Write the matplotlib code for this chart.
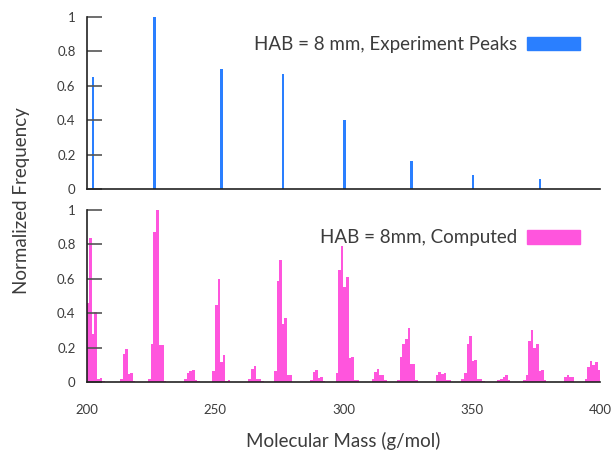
import matplotlib.pyplot as plt
from matplotlib.patches import Patch
from matplotlib.ticker import FixedLocator, FuncFormatter

plt.rcParams['font.family'] = ['Lato', 'DejaVu Sans']

# experiment peaks (top panel)
exp_mass = [202, 226, 252, 276, 300, 326, 350, 376]
exp_freq = [0.65, 1.0, 0.70, 0.67, 0.40, 0.16, 0.083, 0.06]

# computed distribution (bottom panel), 1 amu bins
comp_mass = [200, 201, 202, 203, 204, 205, 206,
             213, 214, 215, 216, 217, 218,
             224, 225, 226, 227, 228, 229, 230,
             238, 239, 240, 241, 242, 243,
             249, 250, 251, 252, 253, 254, 255,
             263, 264, 265, 266, 267, 268,
             273, 274, 275, 276, 277, 278, 279,
             287, 288, 289, 290, 291, 292,
             297, 298, 299, 300, 301, 302, 303, 304, 305,
             311, 312, 313, 314, 315, 316,
             321, 322, 323, 324, 325, 326, 327, 328,
             336, 337, 338, 339, 340, 341,
             346, 347, 348, 349, 350, 351, 352, 353, 354,
             360, 361, 362, 363, 364,
             370, 371, 372, 373, 374, 375, 376, 377, 378,
             386, 387, 388, 389,
             394, 395, 396, 397, 398, 399]
comp_freq = [0.46, 0.84, 0.28, 0.41, 0.016, 0.023, 0.005,
             0.016, 0.163, 0.19, 0.047, 0.052, 0.005,
             0.016, 0.22, 0.87, 1.0, 0.215, 0.215, 0.005,
             0.02, 0.05, 0.065, 0.07, 0.012, 0.005,
             0.062, 0.45, 0.60, 0.115, 0.155, 0.005, 0.012,
             0.016, 0.074, 0.092, 0.016, 0.02, 0.005,
             0.062, 0.59, 0.71, 0.336, 0.37, 0.04, 0.04,
             0.01, 0.06, 0.07, 0.025, 0.03, 0.005,
             0.055, 0.65, 0.79, 0.55, 0.61, 0.14, 0.145, 0.01, 0.01,
             0.015, 0.06, 0.075, 0.04, 0.04, 0.01,
             0.01, 0.143, 0.22, 0.248, 0.312, 0.103, 0.103, 0.01,
             0.04, 0.06, 0.045, 0.05, 0.01, 0.01,
             0.02, 0.05, 0.22, 0.27, 0.12, 0.13, 0.02, 0.02, 0.005,
             0.01, 0.02, 0.03, 0.04, 0.012,
             0.01, 0.04, 0.24, 0.30, 0.20, 0.22, 0.065, 0.07, 0.01,
             0.03, 0.04, 0.03, 0.03,
             0.02, 0.09, 0.12, 0.10, 0.115, 0.07]

yticks = [0, 0.2, 0.4, 0.6, 0.8, 1]
xticks = [200, 250, 300, 350, 400]

blue = '#2a7fff'
pink = '#ff55dd'
txt = '#3c3c3c'

fig = plt.figure(figsize=(6.13, 4.55), dpi=100)
ax1 = fig.add_axes([0.1414, 0.5846, 0.8376, 0.378])
ax2 = fig.add_axes([0.1414, 0.1604, 0.8376, 0.378])


def yfmt(v, pos):
    return '%g' % v


for ax in (ax1, ax2):
    ax.set_xlim(200, 400)
    ax.set_ylim(0, 1)
    for s in ('top', 'right'):
        ax.spines[s].set_visible(False)
    ax.spines['left'].set_color('#222222')
    ax.spines['bottom'].set_color('#222222')
    ax.spines['left'].set_linewidth(1.2)
    ax.spines['bottom'].set_linewidth(1.2)
    ax.yaxis.set_major_locator(FixedLocator(yticks))
    ax.yaxis.set_major_formatter(FuncFormatter(yfmt))
    ax.tick_params(axis='y', direction='in', length=11, width=1.2, color='#555555',
                   labelsize=9.5, labelcolor=txt, pad=8)
    ax.tick_params(axis='x', length=0, labelsize=9.5, labelcolor=txt, pad=16)

leg_kw = dict(loc='upper right', bbox_to_anchor=(0.986, 0.965), frameon=False,
              markerfirst=False, handlelength=2.8, handleheight=0.75,
              handletextpad=0.55, fontsize=13.5, labelcolor=txt, borderaxespad=0.3)

ax1.bar(exp_mass, exp_freq, width=1.0, align='edge', color=blue, linewidth=0)
ax1.set_xticks([])
ax1.legend(handles=[Patch(color=blue, label='HAB = 8 mm, Experiment Peaks')], **leg_kw)

ax2.bar(comp_mass, comp_freq, width=1.0, align='edge', color=pink, linewidth=0)
ax2.set_xticks(xticks)
ax2.legend(handles=[Patch(color=pink, label='HAB = 8mm, Computed')], **leg_kw)

fig.text(0.035, 0.56, 'Normalized Frequency', rotation=90, ha='center', va='center',
         fontsize=13.5, color=txt)
fig.text(0.56, 0.03, 'Molecular Mass (g/mol)', ha='center', va='center',
         fontsize=13.5, color=txt)

fig.savefig('out.png', dpi=100)
